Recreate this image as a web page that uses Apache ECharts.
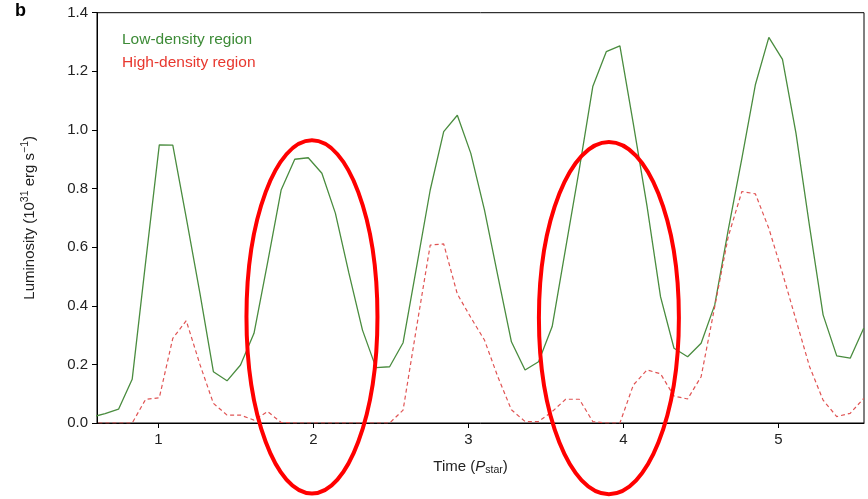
<!DOCTYPE html>
<html>
<head>
<meta charset="utf-8">
<script src="https://cdn.jsdelivr.net/npm/echarts@6/dist/echarts.min.js"></script>
<style>html,body{margin:0;padding:0;background:#fff}#chart{width:868px;height:499px}</style>
</head>
<body>
<div id="chart"></div>
<script>
// Time (P_star) sample points
const timeValues = [0.567,0.655,0.742,0.830,0.917,1.005,1.092,1.179,1.267,1.354,1.442,1.529,1.616,1.704,1.791,1.879,1.966,2.054,2.141,2.228,2.316,2.403,2.491,2.578,2.666,2.753,2.840,2.928,3.015,3.103,3.190,3.277,3.365,3.452,3.540,3.627,3.715,3.802,3.889,3.977,4.064,4.152,4.239,4.326,4.414,4.501,4.589,4.676,4.764,4.851,4.938,5.026,5.113,5.201,5.288,5.376,5.463,5.550];
// Luminosity, low-density region (10^31 erg/s)
const lowDensity = [0.02,0.032,0.047,0.149,0.55,0.949,0.948,0.70,0.443,0.175,0.144,0.198,0.306,0.548,0.795,0.90,0.905,0.852,0.716,0.512,0.317,0.189,0.192,0.274,0.535,0.795,0.994,1.05,0.92,0.727,0.50,0.277,0.181,0.209,0.329,0.597,0.866,1.148,1.267,1.287,1.02,0.74,0.431,0.255,0.226,0.272,0.403,0.659,0.903,1.154,1.316,1.241,0.989,0.67,0.369,0.229,0.221,0.323];
// Luminosity, high-density region
const highDensity = [0,0,0,0,0.081,0.086,0.289,0.349,0.20,0.067,0.027,0.027,0.01,0.039,0.002,0,0,0,0,0,0,0,0,0.044,0.33,0.607,0.611,0.44,0.36,0.283,0.157,0.045,0.005,0.005,0.039,0.081,0.081,0.005,0,0,0.13,0.181,0.168,0.092,0.082,0.158,0.397,0.636,0.79,0.782,0.664,0.511,0.352,0.192,0.078,0.022,0.033,0.084];
const xTicks = [1,2,3,4,5];
const yTicks = [0,0.2,0.4,0.6,0.8,1.0,1.2,1.4];
const seriesNames = ['Low-density region','High-density region'];
// annotation ellipses: [centre time, centre luminosity, half-width (time), half-height (luminosity)]
const ellipses = [[1.99,0.362,0.4226,0.6024],[3.906,0.358,0.4516,0.6007]];

const lowData = timeValues.map((t,i)=>[t, lowDensity[i]]);
const highData = timeValues.map((t,i)=>[t, highDensity[i]]);

const chart = echarts.init(document.getElementById('chart'));
const font = 'Liberation Sans, Arial, Helvetica, sans-serif';
chart.setOption({
  animation:false,
  textStyle:{fontFamily:font},
  grid:{left:97,right:4,top:12.7,bottom:76,show:true,borderColor:'#000',borderWidth:1,backgroundColor:'transparent'},
  title:{text:'b',left:15,top:2,padding:0,textStyle:{fontFamily:font,fontWeight:'bold',fontSize:18,color:'#000'}},
  legend:{
    orient:'vertical',left:112,top:27,itemWidth:0,itemHeight:0,itemGap:7,icon:'none',
    data:[
      {name:seriesNames[0],textStyle:{color:'#3d8b37'}},
      {name:seriesNames[1],textStyle:{color:'#e8382f'}}
    ],
    textStyle:{fontSize:15.5,fontFamily:font}
  },
  xAxis:{
    type:'value',min:0.603,max:5.552,
    axisLine:{onZero:false,lineStyle:{color:'#000',width:1}},
    splitLine:{show:false},
    axisTick:{length:5,lineStyle:{color:'#000'},customValues:xTicks},
    axisLabel:{customValues:xTicks,color:'#222',fontSize:15,margin:9,fontFamily:font},
    name:'{a|Time (}{i|P}{s|star}{a|)}',nameLocation:'middle',nameGap:34,
    nameTextStyle:{padding:[0,20,0,0],rich:{
      a:{fontSize:15,color:'#222',fontFamily:font},
      i:{fontSize:15,color:'#222',fontStyle:'italic',fontFamily:font},
      s:{fontSize:10.5,color:'#222',fontFamily:font,verticalAlign:'bottom',padding:[8,0,0,0]}
    }}
  },
  yAxis:{
    type:'value',min:0,max:1.4,interval:0.2,
    axisLine:{show:true,lineStyle:{color:'#000',width:1}},
    splitLine:{show:false},
    axisTick:{show:true,length:5,lineStyle:{color:'#000'}},
    axisLabel:{color:'#222',fontSize:15,margin:9,fontFamily:font,formatter:v=>v.toFixed(1)},
    name:'{a|Luminosity (10}{s|31}{a| erg s}{s|−1}{a|)}',nameLocation:'middle',nameGap:58,nameRotate:90,
    nameTextStyle:{rich:{
      a:{fontSize:15,color:'#222',fontFamily:font},
      s:{fontSize:10.5,color:'#222',fontFamily:font,verticalAlign:'top',padding:[0,0,8,0]}
    }}
  },
  series:[
    {name:seriesNames[0],type:'line',data:lowData,showSymbol:false,symbol:'none',clip:true,
     lineStyle:{color:'#4a8c3f',width:1.3},itemStyle:{color:'#3d8b37'}},
    {name:seriesNames[1],type:'line',data:highData,showSymbol:false,symbol:'none',clip:true,
     lineStyle:{color:'#e05454',width:1.2,type:[4,3]},itemStyle:{color:'#e8382f'}}
  ]
});

function drawEllipses(){
  const els = ellipses.map(e=>{
    const c = chart.convertToPixel({gridIndex:0},[e[0],e[1]]);
    const c2 = chart.convertToPixel({gridIndex:0},[e[0]+e[2],e[1]+e[3]]);
    return {type:'ellipse',z:100,silent:true,
      shape:{cx:c[0],cy:c[1],rx:Math.abs(c2[0]-c[0]),ry:Math.abs(c2[1]-c[1])},
      style:{fill:'none',stroke:'#ff0000',lineWidth:4}};
  });
  chart.setOption({graphic:{elements:els}});
}
drawEllipses();
</script>
</body>
</html>
